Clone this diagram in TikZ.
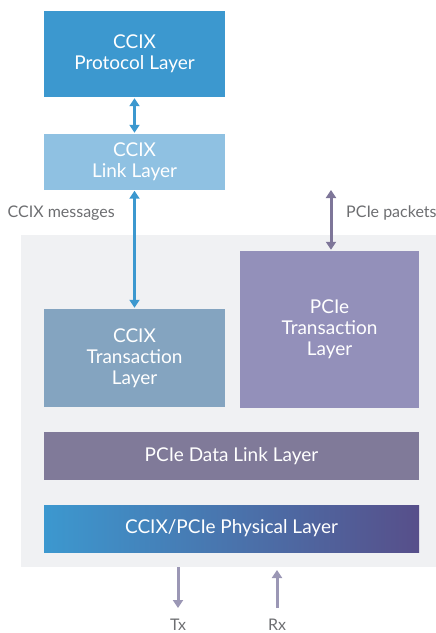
\documentclass[tikz,border=0pt]{standalone}
\usepackage{fontspec}
\setmainfont{Lato}
\usetikzlibrary{arrows.meta}

\definecolor{ccixblue}{HTML}{3C98CF}
\definecolor{linkblue}{HTML}{8FC1E2}
\definecolor{transblue}{HTML}{84A4C0}
\definecolor{pcielilac}{HTML}{9390BA}
\definecolor{dlpurple}{HTML}{807A99}
\definecolor{physpurple}{HTML}{574F8A}
\definecolor{bggray}{HTML}{F0F1F3}
\definecolor{labelgray}{HTML}{6D6E71}
\definecolor{pktpurple}{HTML}{7E7699}
\definecolor{txpurple}{HTML}{9B97B5}

\begin{document}
\begin{tikzpicture}
  [x=1pt,y=-1pt,
   layer node/.style={rectangle,inner sep=0pt,text=white,align=center,
     font=\fontsize{19}{21}\selectfont},
   side label/.style={text=labelgray,inner sep=0pt,font=\fontsize{16}{18}\selectfont},
   link arrow/.style={line width=3pt,{Triangle[width=10pt,length=8pt]}-{Triangle[width=10pt,length=8pt]}},
   one arrow/.style={line width=3pt,-{Triangle[width=10pt,length=8pt]}}]
  \useasboundingbox (0,0) rectangle (436,633);

\node[rectangle,fill=bggray,minimum width=415pt,minimum height=332pt,inner sep=0pt] (bg) at (228.5,401) {};

\node[layer node,fill=ccixblue,minimum width=181pt,minimum height=86pt] (proto) at (134.5,54) {CCIX\\Protocol Layer};
\node[layer node,fill=linkblue,minimum width=181pt,minimum height=56pt] (link) at (134.5,162) {CCIX\\Link Layer};
\node[layer node,fill=transblue,minimum width=181pt,minimum height=98pt] (ccixtl) at (134.5,358) {CCIX\\Transaction\\Layer};
\node[layer node,fill=pcielilac,minimum width=179pt,minimum height=157pt] (pcietl) at (329.5,329.5) {PCIe\\Transaction\\Layer};
\node[layer node,fill=dlpurple,minimum width=375pt,minimum height=48pt] (dll) at (231.5,456) {PCIe Data Link Layer};
\node[layer node,left color=ccixblue,right color=physpurple,minimum width=375pt,minimum height=47pt] (phy) at (231.5,528.5) {CCIX/PCIe Physical Layer};

\coordinate (pkt) at (331,190);
\coordinate (txtop) at (178,567);
\coordinate (txend) at (178,608);
\coordinate (rxtop) at (277,570);
\coordinate (rxend) at (277,608);

\node[side label,anchor=east] (msg) at (115,213) {CCIX messages};
\node[side label,anchor=west] (pkts) at (346,213) {PCIe packets};
\node[side label] (tx) at (178,625) {Tx};
\node[side label] (rx) at (277,625) {Rx};

  \draw[link arrow,ccixblue,shorten <=1pt,shorten >=1pt] (proto) -- (link);
  \draw[link arrow,ccixblue,shorten <=0.5pt,shorten >=1pt] (link) -- (ccixtl);
  \draw[link arrow,pktpurple,shorten >=1pt] (pkt) -- (pcietl.north -| pkt);
  \draw[one arrow,txpurple] (txtop) -- (txend);
  \draw[one arrow,txpurple] (rxend) -- (rxtop);

\end{tikzpicture}
\end{document}
